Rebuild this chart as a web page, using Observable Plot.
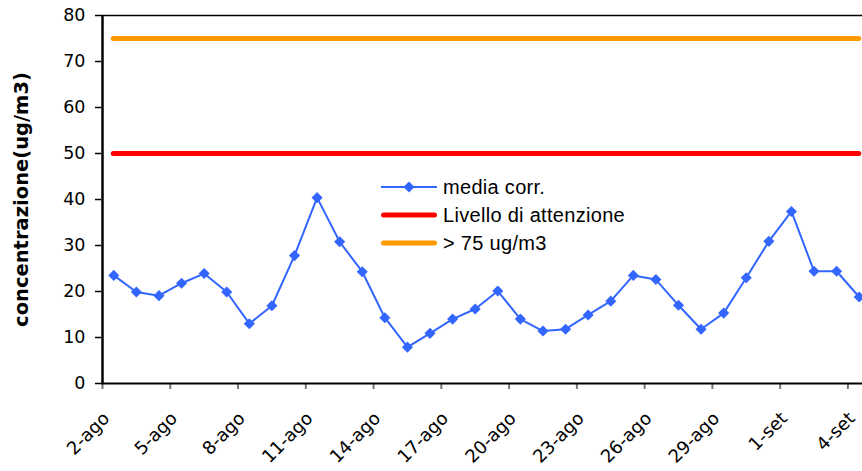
<!DOCTYPE html>
<html>
<head>
<meta charset="utf-8">
<script src="https://cdn.jsdelivr.net/npm/d3@7"></script>
<script src="https://cdn.jsdelivr.net/npm/@observablehq/plot@0.6"></script>
<style>
  html, body { margin: 0; padding: 0; background: #fff; }
  #chart { position: relative; width: 862px; height: 471px; overflow: hidden; }
  #legend { position: absolute; left: 381px; top: 173px; font-family: "Liberation Sans", Arial, sans-serif; font-size: 20px; letter-spacing: 0.3px; color: #000; }
  #legend .row { display: flex; align-items: center; height: 28px; }
  #legend svg { display: block; margin-right: 6px; }
</style>
</head>
<body>
<div id="chart"></div>
<script>
// ---- data ----
const days = ["2-ago","3-ago","4-ago","5-ago","6-ago","7-ago","8-ago","9-ago","10-ago","11-ago",
  "12-ago","13-ago","14-ago","15-ago","16-ago","17-ago","18-ago","19-ago","20-ago","21-ago",
  "22-ago","23-ago","24-ago","25-ago","26-ago","27-ago","28-ago","29-ago","30-ago","31-ago",
  "1-set","2-set","3-set","4-set"];
const mediaCorr = [23.5, 19.9, 19.1, 21.8, 23.9, 19.9, 13.0, 16.9, 27.8, 40.4,
  30.8, 24.3, 14.3, 7.9, 10.9, 14.0, 16.2, 20.1, 14.0, 11.4,
  11.8, 14.9, 17.9, 23.5, 22.6, 17.0, 11.8, 15.3, 23.0, 30.9,
  37.4, 24.4, 24.4, 18.8];
const tickDays = ["2-ago","5-ago","8-ago","11-ago","14-ago","17-ago","20-ago","23-ago","26-ago","29-ago","1-set","4-set"];
const yTicks = [0, 10, 20, 30, 40, 50, 60, 70, 80];
const livelloAttenzione = 50;
const soglia75 = 75;
const seriesNames = ["media corr.", "Livello di attenzione", "> 75 ug/m3"];
const seriesColors = ["#3366ff", "#ff0000", "#ff9900"];
const yTitle = "concentrazione(ug/m3)";

// ---- table ----
const data = days.map((d, i) => ({day: d, pos: i + 0.5, value: mediaCorr[i]}));
const firstPos = data[0].pos, lastPos = data[data.length - 1].pos;

const chart = Plot.plot({
  width: 862,
  height: 471,
  marginLeft: 101,
  marginTop: 15,
  marginBottom: 88,
  marginRight: 0,
  style: {fontFamily: "'DejaVu Sans', sans-serif", fontSize: "17px", color: "#000", background: "#fff", overflow: "visible"},
  x: {domain: [0, days.length], range: [102, 870]},
  y: {domain: [0, 80]},
  marks: [
    Plot.ruleY([80], {stroke: "#000", strokeWidth: 1.5}),
    Plot.ruleY([livelloAttenzione], {x1: firstPos, x2: lastPos, stroke: seriesColors[1], strokeWidth: 5, strokeLinecap: "round"}),
    Plot.ruleY([soglia75], {x1: firstPos, x2: lastPos, stroke: seriesColors[2], strokeWidth: 5, strokeLinecap: "round"}),
    Plot.lineY(data, {x: "pos", y: "value", stroke: seriesColors[0], strokeWidth: 2}),
    Plot.dot(data, {x: "pos", y: "value", symbol: "diamond2", r: 5, fill: seriesColors[0], stroke: "none"}),
    Plot.axisY({ticks: yTicks, tickSize: 6, tickPadding: 10, fontSize: 17.5, stroke: "#000", strokeWidth: 1.5, label: null}),
    Plot.axisX({ticks: tickDays.map(d => days.indexOf(d)), tickSize: 6, stroke: "#777", strokeWidth: 2, text: null, label: null}),
    Plot.axisX({ticks: tickDays.map(d => days.indexOf(d)), tickFormat: i => days[i], tickRotate: -45,
      tickSize: 0, tickPadding: 32, fontSize: 18, dx: 4, label: null}),
    Plot.ruleY([0], {stroke: "#000", strokeWidth: 2}),
    Plot.ruleX([0], {stroke: "#000", strokeWidth: 2.5}),
    Plot.text([yTitle], {frameAnchor: "left", textAnchor: "middle", rotate: -90, dx: -80, fontSize: 19.5, fontWeight: "bold", fill: "#000", ariaLabel: "y-title"})
  ]
});
d3.select(chart).selectAll('g[aria-label="y-title"] text').style("letter-spacing", "1.4px");
const root = document.getElementById("chart");
root.appendChild(chart);

// ---- legend (HTML overlay) ----
const legend = document.createElement("div");
legend.id = "legend";
seriesNames.forEach((name, i) => {
  const row = document.createElement("div");
  row.className = "row";
  const ns = "http://www.w3.org/2000/svg";
  const sw = document.createElementNS(ns, "svg");
  sw.setAttribute("width", 56); sw.setAttribute("height", 14);
  const ln = document.createElementNS(ns, "line");
  ln.setAttribute("x1", i === 0 ? 0 : 2.5); ln.setAttribute("x2", i === 0 ? 56 : 53.5);
  ln.setAttribute("y1", 7); ln.setAttribute("y2", 7);
  ln.setAttribute("stroke", seriesColors[i]);
  ln.setAttribute("stroke-width", i === 0 ? 2 : 5);
  ln.setAttribute("stroke-linecap", i === 0 ? "butt" : "round");
  sw.appendChild(ln);
  if (i === 0) {
    const p = document.createElementNS(ns, "path");
    p.setAttribute("d", d3.symbol(d3.symbolDiamond2, Math.PI * 5 * 5)());
    p.setAttribute("transform", "translate(28,7)");
    p.setAttribute("fill", seriesColors[0]);
    sw.appendChild(p);
  }
  row.appendChild(sw);
  const t = document.createElement("span");
  t.textContent = name;
  row.appendChild(t);
  legend.appendChild(row);
});
root.appendChild(legend);
</script>
</body>
</html>
